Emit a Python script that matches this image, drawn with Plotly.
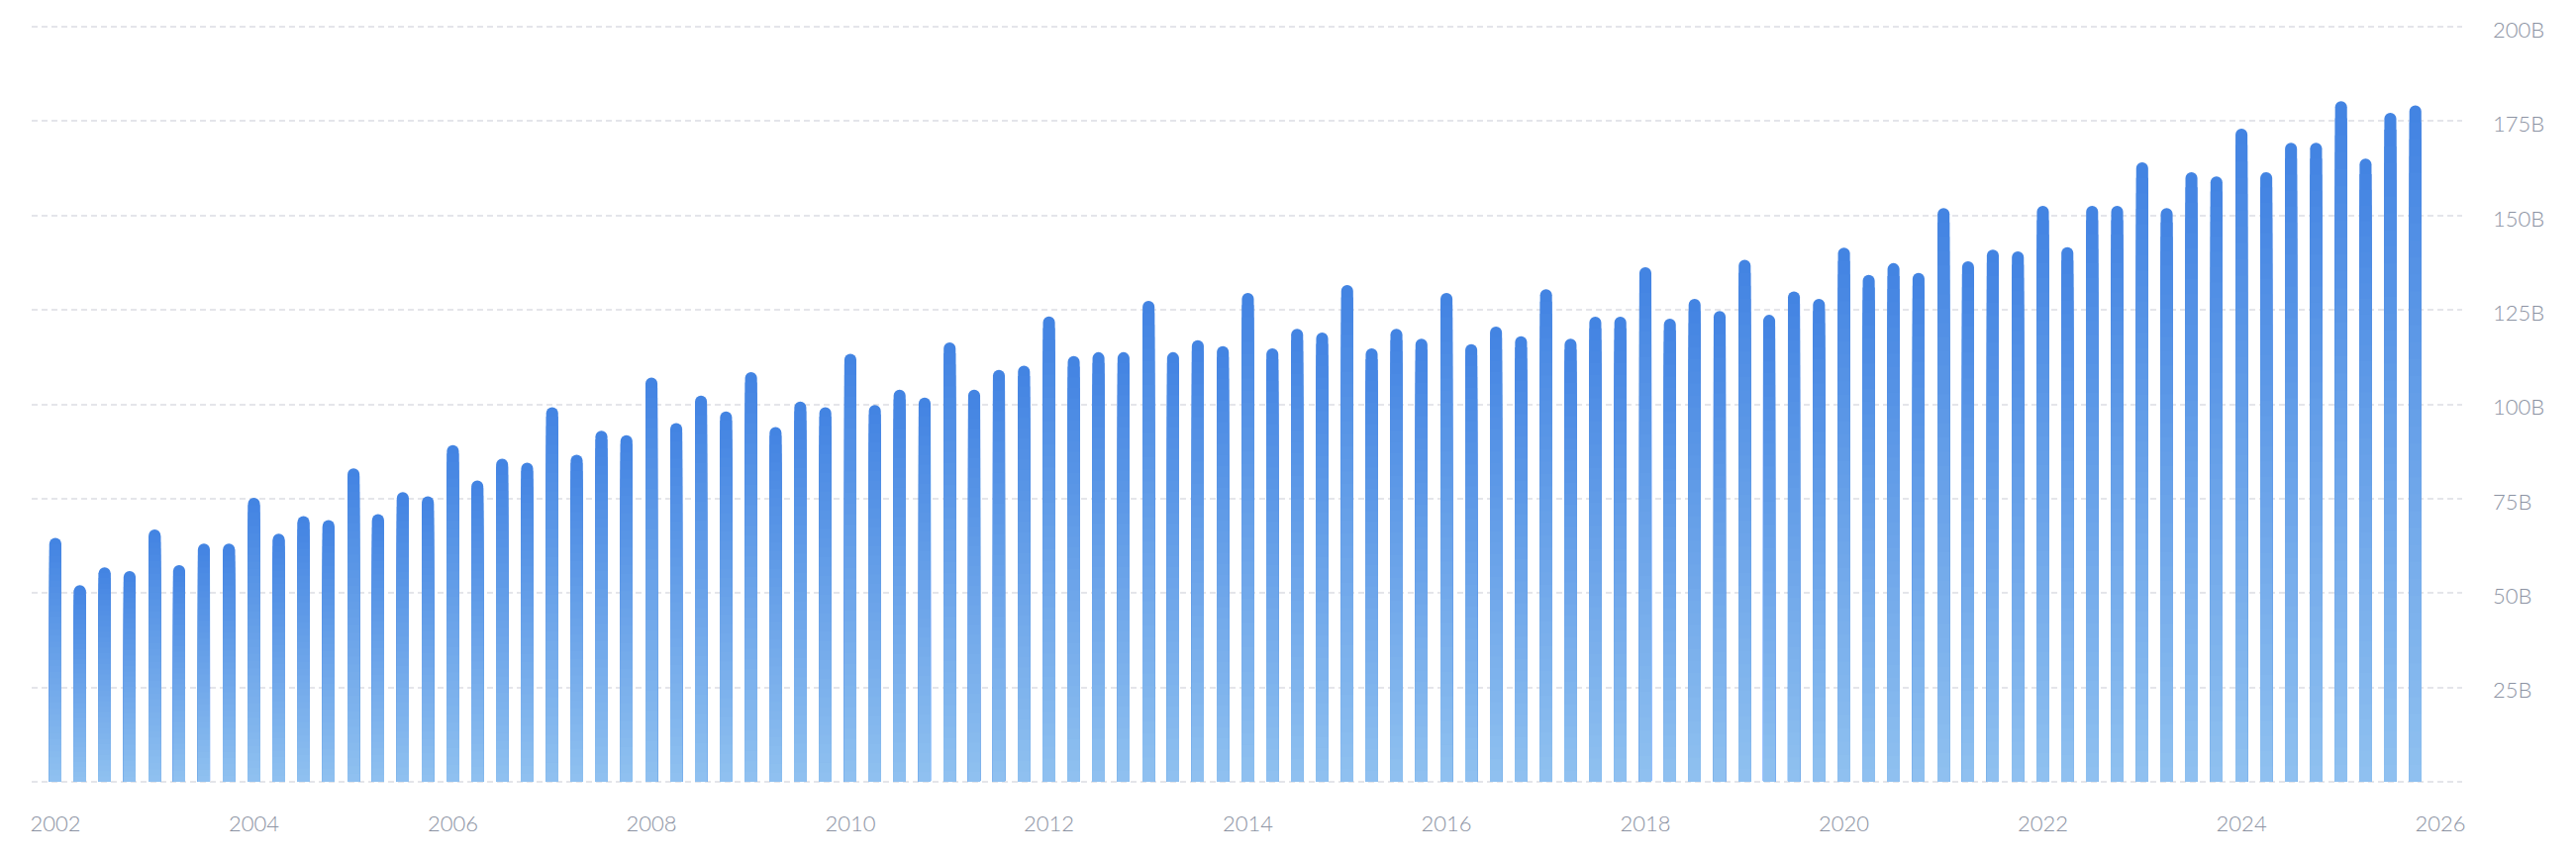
import pandas as pd
import plotly.graph_objects as go

# quarterly values, in billions
anios = list(range(2002, 2026))
valores = [
    64.6, 52.1, 56.8, 55.8,
    66.8, 57.4, 63.1, 63.1,
    75.2, 65.7, 70.4, 69.3,
    83.0, 70.9, 76.7, 75.6,
    89.2, 79.8, 85.6, 84.5,
    99.2, 86.6, 93.0, 91.8,
    107.1, 95.0, 102.3, 98.1,
    108.5, 94.0, 100.7, 99.2,
    113.4, 99.8, 103.9, 101.8,
    116.4, 103.9, 109.1, 110.2,
    123.3, 112.8, 113.8, 113.8,
    127.4, 113.8, 117.0, 115.4,
    129.5, 114.8, 120.0, 119.0,
    131.6, 114.8, 120.0, 117.4,
    129.5, 115.9, 120.6, 118.0,
    130.5, 117.4, 123.2, 123.2,
    136.3, 122.7, 127.9, 124.7,
    138.3, 123.7, 129.9, 127.9,
    141.5, 134.3, 137.4, 134.8,
    152.0, 137.9, 141.0, 140.5,
    152.6, 141.6, 152.6, 152.6,
    164.1, 152.0, 161.5, 160.4,
    173.0, 161.5, 169.3, 169.3,
    180.3, 165.1, 177.2, 179.2,
]
trimestres = pd.date_range(f"{anios[0]}-01-01", periods=len(valores), freq="QS")

ticks_y = [0, 25, 50, 75, 100, 125, 150, 175, 200]
etiquetas_y = ["" if t == 0 else f"{t}B" for t in ticks_y]

color_arriba = (66, 131, 226)
color_abajo = (144, 193, 240)
pasos = 40
ancho_barra = 44 * 24 * 3600 * 1000  # ms

fig = go.Figure()

# gradient faked with overlaid bars, darkest/tallest first
for k in range(pasos, 0, -1):
    t = (k - 0.5) / pasos
    c = tuple(round(color_abajo[i] + (color_arriba[i] - color_abajo[i]) * t) for i in range(3))
    fig.add_trace(go.Bar(
        x=trimestres,
        y=[v * k / pasos for v in valores],
        width=ancho_barra,
        marker=dict(color=f"rgb{c}", line=dict(width=0),
                    cornerradius=6 if k == pasos else 0),
        hoverinfo="skip",
        showlegend=False,
    ))

fig.update_layout(
    width=2602, height=868,
    barmode="overlay",
    plot_bgcolor="white", paper_bgcolor="white",
    margin=dict(l=32, r=115, t=26, b=77),
    font=dict(family="Lato", size=22, color="#8c93a3", weight=300),
)
fig.update_xaxes(
    type="date",
    range=["2001-10-06", "2026-03-22"],
    tick0="2002-01-01", dtick="M24", tickformat="%Y",
    showgrid=False, zeroline=False, showline=False,
    ticks="", ticklabelstandoff=26,
)
fig.update_yaxes(
    side="right",
    range=[-0.3, 200.3],
    tickvals=ticks_y, ticktext=etiquetas_y,
    showgrid=True, gridcolor="#e4e5ea", gridwidth=2, griddash="6px,4px",
    zeroline=False, showline=False,
    ticks="", ticklabelstandoff=30, ticklabelshift=3,
)

fig.write_html("out.html", config={"displayModeBar": False},
               post_script="document.body.style.margin='0';")
